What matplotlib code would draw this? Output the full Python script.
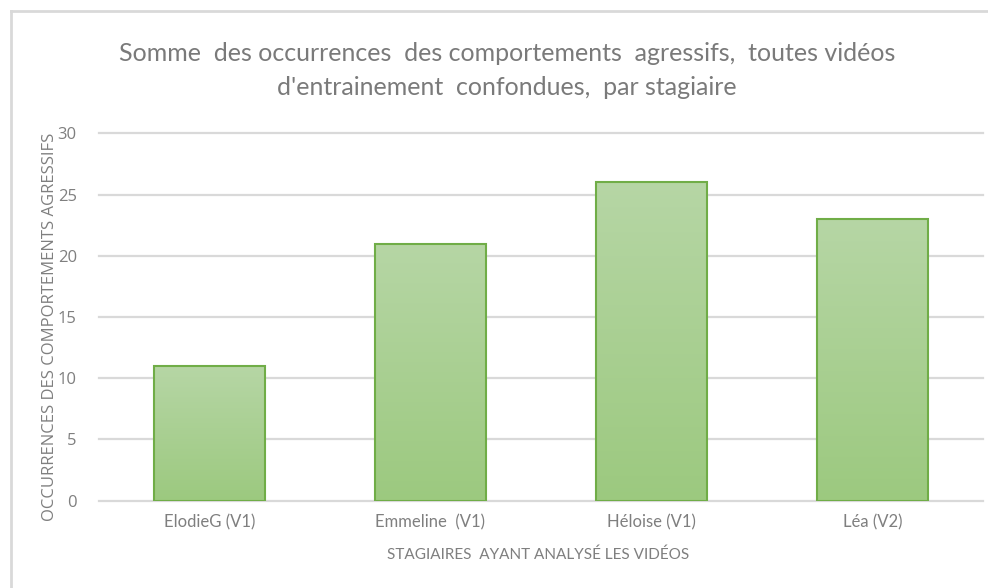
import numpy as np
import matplotlib
matplotlib.use("Agg")
import matplotlib.pyplot as plt
from matplotlib.colors import LinearSegmentedColormap

# data
stagiaires = ["ElodieG (V1)", "Emmeline  (V1)", "Héloise (V1)", "Léa (V2)"]
occurrences = [11, 21, 26, 23]
y_ticks = [0, 5, 10, 15, 20, 25, 30]

title = ("Somme  des occurrences  des comportements  agressifs,  toutes vidéos\n"
         "d'entrainement  confondues,  par stagiaire")
x_title = "STAGIAIRES  AYANT ANALYSÉ LES VIDÉOS"
y_title = "OCCURRENCES DES COMPORTEMENTS AGRESSIFS"

narrow = ["Lato", "DejaVu Sans"]
wide = ["Open Sans", "DejaVu Sans"]
grey = "#7f7f7f"

fig = plt.figure(figsize=(9.88, 5.88), dpi=100)
ax = fig.add_axes([0.1002, 0.1485, 0.8947, 0.6245])

x = np.arange(len(stagiaires))
bars = ax.bar(x, occurrences, width=0.5, color="none", edgecolor="#70ad47",
              linewidth=1.5, zorder=3)

# vertical gradient fill, lighter at the top
grad = LinearSegmentedColormap.from_list("g", ["#9cc97f", "#b6d6a5"])
ramp = np.linspace(0, 1, 256).reshape(-1, 1)
for b in bars:
    im = ax.imshow(ramp, cmap=grad, origin="lower", aspect="auto",
                   extent=[b.get_x(), b.get_x() + b.get_width(), 0, b.get_height()],
                   zorder=2)
    im.set_clip_path(b)

ax.set_xlim(-0.5, len(stagiaires) - 0.5)
ax.set_ylim(0, 30)
ax.set_yticks(y_ticks)
ax.set_yticklabels([str(t) for t in y_ticks], family=wide, fontsize=12, color=grey)
ax.set_xticks(x)
ax.set_xticklabels(stagiaires, family=narrow, fontsize=12, color=grey)
ax.tick_params(length=0, pad=10)
ax.tick_params(axis="y", pad=16)
for t in y_ticks:
    ax.axhline(t, color="#d9d9d9", linewidth=1.6, zorder=1, clip_on=False)
for s in ax.spines.values():
    s.set_visible(False)

fig.text(0.513, 0.880, title, ha="center", va="center", family=narrow,
         fontsize=18, color="#7a7a7a", linespacing=1.6)
fig.text(0.545, 0.057, x_title, ha="center", va="center", family=narrow,
         fontsize=11, color=grey)
fig.text(0.051, 0.444, y_title, ha="center", va="center", rotation=90,
         family=wide, fontsize=12, color=grey)

# light frame of the chart area (top and left edges visible)
fig.add_artist(plt.Line2D([0.011, 0.011], [0, 0.982], color="#d9d9d9", lw=2,
                          transform=fig.transFigure))
fig.add_artist(plt.Line2D([0.011, 1.0], [0.982, 0.982], color="#d9d9d9", lw=2,
                          transform=fig.transFigure))

fig.savefig("out.png", dpi=100)
